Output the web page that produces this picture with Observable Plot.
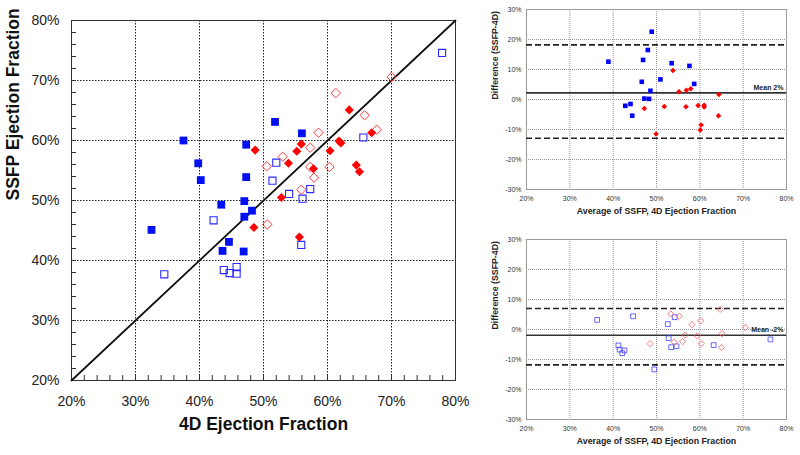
<!DOCTYPE html>
<html>
<head>
<meta charset="utf-8">
<script src="https://cdn.jsdelivr.net/npm/d3@7"></script>
<script src="https://cdn.jsdelivr.net/npm/@observablehq/plot@0.6"></script>
<style>
  html, body { margin: 0; padding: 0; background: #fff; }
  #wrap { position: relative; width: 800px; height: 455px; overflow: hidden; }
  #wrap > svg { position: absolute; }
</style>
</head>
<body>
<div id="wrap"></div>
<script>
// ---------- Main scatter: SSFP vs 4D ejection fraction (%) ----------
const blueFilled4D   = [37.5, 47.3, 39.8, 40.2, 47.3, 51.8, 56.0, 43.4, 47.0, 48.2, 47.0, 44.6, 43.6, 46.9, 32.5];
const blueFilledSSFP = [60.0, 59.3, 56.2, 53.4, 53.9, 63.1, 61.2, 49.3, 49.9, 48.3, 47.3, 43.1, 41.6, 41.5, 45.1];

const redFilled4D    = [48.7, 63.4, 66.9, 61.8, 62.1, 55.9, 55.2, 60.4, 53.9, 57.8, 64.5, 65.0, 52.8, 48.5, 55.6];
const redFilledSSFP  = [58.4, 65.1, 61.3, 59.9, 59.6, 59.4, 58.2, 58.3, 56.2, 55.3, 55.9, 54.8, 50.5, 45.5, 43.9];

const blueOpen4D     = [77.9, 65.6, 52.0, 51.4, 57.3, 54.0, 56.1, 55.9, 42.2, 34.5, 43.8, 44.7, 45.8, 45.8];
const blueOpenSSFP   = [74.6, 60.5, 56.3, 53.3, 51.9, 51.1, 50.3, 42.6, 46.7, 37.7, 38.4, 37.9, 38.9, 37.8];

const redOpen4D      = [70.0, 61.3, 65.8, 67.7, 58.6, 57.3, 53.0, 50.5, 57.3, 60.3, 57.9, 55.9, 50.6];
const redOpenSSFP    = [70.6, 67.9, 64.2, 61.8, 61.3, 58.8, 57.3, 55.7, 55.6, 55.6, 53.8, 51.8, 46.0];

const identityLine   = [20, 80];
const mainTicks      = [20, 30, 40, 50, 60, 70, 80];
const mainGrid       = [30, 40, 50, 60, 70];
const mainMinorTicks = d3.range(20, 81, 2);
const mainXTitle = "4D Ejection Fraction";
const mainYTitle = "SSFP Ejection Fraction";

// ---------- Bland-Altman (top, filled markers) ----------
const topBlueAvg  = [38.9, 48.9, 48.0, 46.9, 53.5, 57.6, 46.6, 50.9, 58.7, 48.6, 47.2, 48.3, 42.8, 44.0, 44.4];
const topBlueDiff = [12.6, 22.6, 16.5, 13.2, 12.1, 11.2, 5.9, 6.7, 5.2, 2.9, 0.3, 0.2, -2.1, -1.5, -5.4];
const topRedAvg   = [53.8, 55.2, 56.9, 57.9, 64.4, 47.2, 51.8, 56.8, 59.6, 61.0, 61.0, 64.3, 60.3, 60.1, 49.9];
const topRedDiff  = [9.7, 2.6, 3.1, 3.6, 1.7, -3.0, -2.3, -2.4, -2.0, -1.9, -2.5, -5.4, -8.5, -10.2, -11.5];
const topMean = [2.2], topLimits = [18.2, -12.9];
const topMeanLabel = "Mean 2%";

// ---------- Bland-Altman (bottom, open markers) ----------
const botBlueAvg  = [36.3, 44.6, 52.6, 54.2, 52.8, 53.4, 54.6, 63.2, 76.3, 41.2, 41.5, 42.1, 42.6, 49.5];
const botBlueDiff = [3.2, 4.4, 1.8, 4.1, -2.9, -5.9, -5.6, -5.2, -3.3, -5.3, -6.7, -7.9, -7.0, -13.3];
const botRedAvg   = [53.3, 55.2, 60.2, 64.7, 58.2, 70.5, 48.5, 54.1, 56.0, 56.6, 59.4, 60.3, 65.1, 65.0];
const botRedDiff  = [5.2, 4.4, 2.9, 6.7, 1.6, 0.6, -4.7, -4.2, -4.0, -1.9, -2.1, -4.7, -1.4, -6.0];
const botMean = [-1.9], botLimits = [7.0, -11.8];
const botMeanLabel = "Mean -2%";

const baXTicks = [20, 30, 40, 50, 60, 70, 80];
const baYTicks = [-30, -20, -10, 0, 10, 20, 30];
const baXGrid  = [30, 40, 50, 60, 70];
const baYGrid  = [-20, -10, 0, 10, 20];
const baXTitle = "Average of SSFP, 4D Ejection Fraction";
const baYTitle = "Difference (SSFP-4D)";

const FONT = "'Liberation Sans', Arial, Helvetica, sans-serif";
const pct = d => d + "%";
const zip = (a, b) => a.map((v, i) => [v, b[i]]);

// ---------- Main chart ----------
const mainChart = Plot.plot({
  width: 470, height: 455,
  marginLeft: 71, marginRight: 15, marginTop: 20, marginBottom: 75,
  x: {domain: [20, 80]},
  y: {domain: [20, 80]},
  style: {fontFamily: FONT, fontSize: "14px", color: "#222", background: "transparent", overflow: "visible"},
  marks: [
    Plot.ruleX(mainGrid, {stroke: "#222", strokeDasharray: "1.5,1.5"}),
    Plot.ruleY(mainGrid, {stroke: "#222", strokeDasharray: "1.5,1.5"}),
    Plot.frame({stroke: "#333"}),
    Plot.axisX(mainTicks, {tickSize: 0, tickPadding: 16, tickFormat: pct, label: null, fontSize: 14}),
    Plot.axisX(mainMinorTicks, {tickSize: -5, tickFormat: () => "", label: null, stroke: "#333"}),
    Plot.axisY(mainTicks, {tickSize: 0, tickPadding: 12, tickFormat: pct, label: null, fontSize: 14}),
    Plot.axisY(mainMinorTicks, {tickSize: -5, tickFormat: () => "", label: null, stroke: "#333"}),
    Plot.line(identityLine, {x: d => d, y: d => d, stroke: "#111", strokeWidth: 1.8}),
    Plot.dot(zip(blueOpen4D, blueOpenSSFP), {x: d => d[0], y: d => d[1], symbol: "square", r: 4, fill: "white", fillOpacity: 0, stroke: "#2a2aff", strokeWidth: 1.1}),
    Plot.dot(zip(redOpen4D, redOpenSSFP), {x: d => d[0], y: d => d[1], symbol: "diamond2", r: 4.2, fill: "white", fillOpacity: 0, stroke: "#ff3b3b", strokeWidth: 1}),
    Plot.dot(zip(blueFilled4D, blueFilledSSFP), {x: d => d[0], y: d => d[1], symbol: "square", r: 4.4, fill: "#0010f0", stroke: "none"}),
    Plot.dot(zip(redFilled4D, redFilledSSFP), {x: d => d[0], y: d => d[1], symbol: "diamond2", r: 4.1, fill: "#ff0000", stroke: "none"}),
    Plot.text([mainXTitle], {text: d => d, frameAnchor: "bottom", dy: 49, fontSize: 17.5, fontWeight: "bold", fill: "#111"}),
    Plot.text([mainYTitle], {text: d => d, frameAnchor: "left", dx: -58, rotate: -90, fontSize: 17.5, fontWeight: "bold", fill: "#111"})
  ]
});
mainChart.style.left = "0px"; mainChart.style.top = "0px";

// ---------- Bland-Altman builder ----------
function baPlot({blue, red, mean, limits, meanLabel, open}) {
  const blueDot = open
    ? {symbol: "square", r: 2.7, fill: "white", fillOpacity: 0, stroke: "#4040ff", strokeWidth: 0.8}
    : {symbol: "square", r: 2.6, fill: "#0000ff", stroke: "none"};
  const redDot = open
    ? {symbol: "diamond2", r: 2.8, fill: "white", fillOpacity: 0, stroke: "#ff5a5a", strokeWidth: 0.8}
    : {symbol: "diamond2", r: 2.5, fill: "#ff0000", stroke: "none"};
  return Plot.plot({
    width: 330, height: 225,
    marginLeft: 56, marginRight: 14, marginTop: 9, marginBottom: 36,
    x: {domain: [20, 80]},
    y: {domain: [-30, 30]},
    style: {fontFamily: FONT, fontSize: "7px", color: "#333", background: "transparent", overflow: "visible"},
    marks: [
      Plot.ruleX(baXGrid, {stroke: "#999", strokeDasharray: "1,1"}),
      Plot.ruleY(baYGrid, {stroke: "#999", strokeDasharray: "1,1"}),
      Plot.frame({stroke: "#9a9a9a"}),
      Plot.axisX(baXTicks, {tickSize: 0, tickPadding: 7, tickFormat: pct, label: null, fontSize: 7}),
      Plot.axisY(baYTicks, {tickSize: 0, tickPadding: 5, tickFormat: pct, label: null, fontSize: 7}),
      Plot.ruleY(limits, {stroke: "#222", strokeWidth: 1.6, strokeDasharray: "6,3"}),
      Plot.ruleY(mean, {stroke: "#333", strokeWidth: 1.6}),
      Plot.text(mean, {y: d => d, text: () => meanLabel, frameAnchor: "right", textAnchor: "end", dx: -3, dy: -5, fontSize: 7, fontWeight: "bold", fill: "#222"}),
      Plot.dot(blue, {x: d => d[0], y: d => d[1], ...blueDot}),
      Plot.dot(red, {x: d => d[0], y: d => d[1], ...redDot}),
      Plot.text([baXTitle], {text: d => d, frameAnchor: "bottom", dy: 24, fontSize: 8.8, fontWeight: "bold", fill: "#222"}),
      Plot.text([baYTitle], {text: d => d, frameAnchor: "left", dx: -31, rotate: -90, fontSize: 8.8, fontWeight: "bold", fill: "#222"})
    ]
  });
}

const baTop = baPlot({blue: zip(topBlueAvg, topBlueDiff), red: zip(topRedAvg, topRedDiff), mean: topMean, limits: topLimits, meanLabel: topMeanLabel, open: false});
baTop.style.left = "470px"; baTop.style.top = "0px";
const baBot = baPlot({blue: zip(botBlueAvg, botBlueDiff), red: zip(botRedAvg, botRedDiff), mean: botMean, limits: botLimits, meanLabel: botMeanLabel, open: true});
baBot.style.left = "470px"; baBot.style.top = "230px";

document.getElementById("wrap").append(mainChart, baTop, baBot);
</script>
</body>
</html>
